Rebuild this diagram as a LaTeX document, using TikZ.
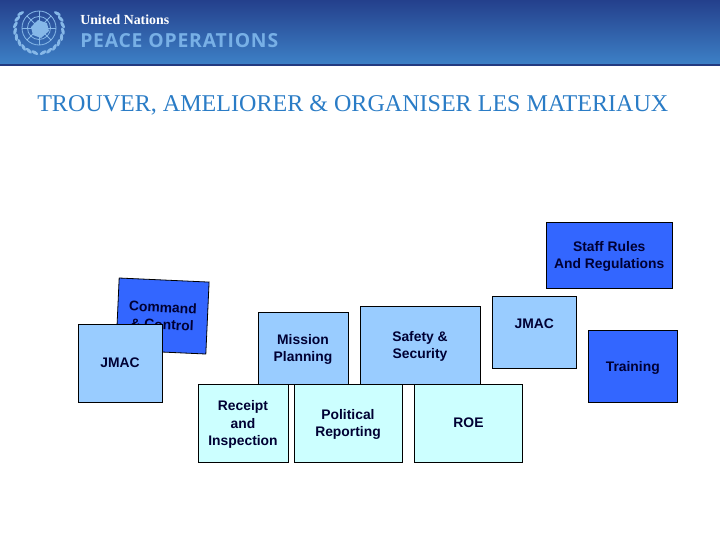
\documentclass[tikz,border=0pt]{standalone}
\usepackage{fontspec}
\setmainfont{Liberation Serif}
\setsansfont{Liberation Sans}
\newfontfamily\bannerfont[LetterSpace=4.2]{Open Sans}
\usetikzlibrary{positioning}
\definecolor{bandTop}{HTML}{24408C}
\definecolor{bandMid}{HTML}{2A5FAC}
\definecolor{bandLow}{HTML}{3D80C6}
\definecolor{bandEdge}{HTML}{233A80}
\definecolor{emblem}{HTML}{86B8E8}
\definecolor{bannerText}{HTML}{78B0E6}
\definecolor{titleBlue}{HTML}{2A7CC6}
\definecolor{deepBlue}{HTML}{3366FF}
\definecolor{midBlue}{HTML}{99CCFF}
\definecolor{paleBlue}{HTML}{CCFFFF}
\definecolor{boxText}{HTML}{000033}

\begin{document}
\begin{tikzpicture}[x=0.75pt, y=-0.75pt,
    box/.style={draw=black, line width=0.6pt, inner sep=0pt, align=center, text=boxText,
      font=\sffamily\bfseries\fontsize{10.4}{12.8}\selectfont, text depth=-2pt},
    deepbox/.style={box, fill=deepBlue},
    midbox/.style={box, fill=midBlue},
    palebox/.style={box, fill=paleBlue},
    emblemline/.style={draw=emblem, line width=0.6pt},
]
  \useasboundingbox (0,0) rectangle (720,540);
  \fill[white] (0,0) rectangle (720,540);

  % Header band
  \shade[top color=bandTop, middle color=bandMid, bottom color=bandLow] (0,0) rectangle (720,64);
  \fill[bandEdge] (0,64) rectangle (720,66);

  % Emblem
  \foreach \r in {6,11.5,17} {
      \draw[emblemline] (39,28) circle (\r);
  }
  \foreach \a in {0,45,...,315} {
      \draw[emblemline] (39,28) -- ++(\a:17);
  }
  \fill[emblem] (31,27) -- (38,20) -- (47,23) -- (49,31) -- (41,38) -- (33,35) -- cycle;
  \foreach \a in {-40,-25,...,80} {
      \fill[emblem, shift={(39,29)}, rotate=-\a, shift={(24,0)}, rotate=20] (0,0) ellipse (1.6 and 3.8);
      \fill[emblem, shift={(39,29)}, rotate=180+\a, shift={(24,0)}, rotate=-20] (0,0) ellipse (1.6 and 3.8);
  }

  % Header text
  \node[anchor=west, inner sep=0pt, text=white, font=\rmfamily\bfseries\fontsize{10.4}{12}\selectfont] (unName) at (80,20) {United Nations};
  \node[anchor=west, inner sep=0pt, text=bannerText, font=\bannerfont\bfseries\fontsize{14.5}{18}\selectfont] (peaceName) at (80,41) {PEACE OPERATIONS};

  % Title
  \node[anchor=west, inner sep=0pt, text=titleBlue, font=\rmfamily\fontsize{18.05}{20}\selectfont] (title) at (37,105) {TROUVER, AMELIORER \& ORGANISER LES MATERIAUX};

  % Upper boxes
  \node[deepbox, minimum width=126.5*0.75pt, minimum height=66*0.75pt] (staffRules) at (609.25,255) {Staff Rules\\And Regulations};
  \node[midbox, minimum width=84.5*0.75pt, minimum height=72*0.75pt] (jmacRight) at (534.25,332) {JMAC\\\mbox{}};
  \node[deepbox, minimum width=89.5*0.75pt, minimum height=72*0.75pt] (training) at (632.75,366) {Training};

  % Left pair
  \node[deepbox, rotate=-2.6, minimum width=90*0.75pt, minimum height=72*0.75pt] (command) at (162.5,316) {Command\\\& Control};
  \node[midbox, minimum width=84*0.75pt, minimum height=78*0.75pt] (jmacLeft) at (120,363) {JMAC};

  % Middle row
  \node[midbox, minimum width=90*0.75pt, minimum height=72*0.75pt] (mission) at (303,348) {Mission\\Planning};
  \node[midbox, minimum width=120*0.75pt, minimum height=78*0.75pt] (safety) at (420,345) {Safety \&\\Security};

  % Lower row
  \node[palebox, minimum width=90*0.75pt, minimum height=78*0.75pt] (receipt) at (243,423) {Receipt\\and\\Inspection};
  \node[palebox, minimum width=108*0.75pt, minimum height=78*0.75pt] (political) at (348,423) {Political\\Reporting};
  \node[palebox, minimum width=108*0.75pt, minimum height=78*0.75pt] (roe) at (468.5,423) {ROE};
\end{tikzpicture}
\end{document}
